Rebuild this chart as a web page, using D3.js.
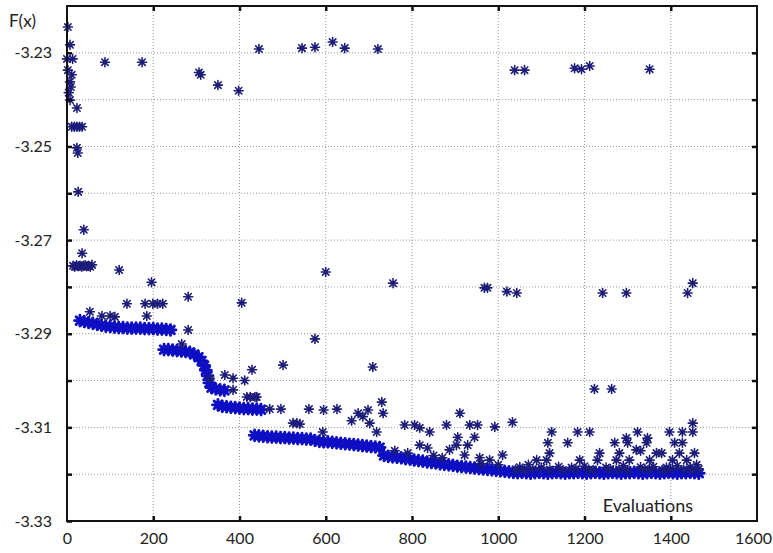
<!DOCTYPE html>
<html>
<head>
<meta charset="utf-8">
<script src="https://cdn.jsdelivr.net/npm/d3@7"></script>
<style>
  body { margin: 0; background: #fff; }
  svg { display: block; }
  text { font-family: Lato, "Liberation Sans", sans-serif; fill: #222; }
</style>
</head>
<body>
<div id="chart"></div>
<script>
// tick labels
var xTickValues = [0, 200, 400, 600, 800, 1000, 1200, 1400, 1600];
var yTickValues = [-3.33, -3.32, -3.31, -3.30, -3.29, -3.28, -3.27, -3.26, -3.25, -3.24, -3.23, -3.22];
var yTickLabels = ["-3.23", "-3.25", "-3.27", "-3.29", "-3.31", "-3.33"];

// dense trace of the best-so-far values
var bandEval = [30, 40, 50, 60, 70, 80, 90, 100, 110, 120, 130, 140, 150, 160, 170, 180, 190, 200, 210, 220, 230, 240,
  225, 235, 245, 255, 265, 275, 285, 295, 305, 312, 318, 322, 326, 330, 335, 345, 355, 365,
  350, 360, 370, 380, 390, 400, 410, 420, 430, 440, 450,
  435, 445, 455, 465, 475, 485, 495, 505, 515, 525, 535, 545, 555, 565, 575, 585, 595, 605, 615, 625, 635, 645, 655, 665, 675, 685, 695, 705, 715, 725,
  735, 745, 755, 765, 775, 785, 795, 805, 815, 825, 835, 845, 855, 865, 875, 885, 895, 905, 915, 925, 935, 945, 955, 965, 975, 985, 995, 1005, 1015, 1025,
  1035, 1045, 1055, 1065, 1075, 1085, 1095, 1105, 1115, 1125, 1135, 1145, 1155, 1165, 1175, 1185, 1195, 1205, 1215, 1225, 1235, 1245,
  1255, 1265, 1275, 1285, 1295, 1305, 1315, 1325, 1335, 1345, 1355, 1365, 1375, 1385, 1395, 1405, 1415, 1425, 1435, 1445, 1455, 1465];
var bandF = [-3.2872, -3.2874, -3.2876, -3.2878, -3.2880, -3.2882, -3.2884, -3.2885, -3.2886, -3.2887, -3.2887, -3.2888, -3.2888, -3.2888, -3.2888, -3.2889, -3.2889, -3.2889, -3.2890, -3.2890, -3.2891, -3.2892,
  -3.2934, -3.2934, -3.2935, -3.2936, -3.2937, -3.2938, -3.2940, -3.2944, -3.2950, -3.2958, -3.2968, -3.2978, -3.2990, -3.3005, -3.3015, -3.3018, -3.3020, -3.3021,
  -3.3052, -3.3055, -3.3056, -3.3057, -3.3058, -3.3059, -3.3060, -3.3060, -3.3061, -3.3061, -3.3062,
  -3.3117, -3.3118, -3.3119, -3.3120, -3.3121, -3.3121, -3.3122, -3.3122, -3.3123, -3.3123, -3.3124, -3.3124, -3.3125, -3.3125, -3.3128, -3.3130, -3.3131, -3.3131, -3.3132, -3.3133, -3.3134, -3.3135, -3.3136, -3.3137, -3.3138, -3.3139, -3.3140, -3.3141, -3.3142, -3.3143,
  -3.3160, -3.3162, -3.3163, -3.3164, -3.3165, -3.3167, -3.3168, -3.3170, -3.3171, -3.3172, -3.3174, -3.3175, -3.3176, -3.3178, -3.3179, -3.3180, -3.3181, -3.3183, -3.3184, -3.3185, -3.3186, -3.3187, -3.3188, -3.3189, -3.3190, -3.3191, -3.3192, -3.3193, -3.3194, -3.3195,
  -3.3196, -3.3197, -3.3196, -3.3197, -3.3198, -3.3197, -3.3196, -3.3197, -3.3198, -3.3197, -3.3196, -3.3197, -3.3198, -3.3197, -3.3197, -3.3196, -3.3197, -3.3198, -3.3197, -3.3196, -3.3197, -3.3198,
  -3.3197, -3.3196, -3.3197, -3.3198, -3.3197, -3.3197, -3.3196, -3.3197, -3.3198, -3.3197, -3.3196, -3.3197, -3.3198, -3.3197, -3.3196, -3.3197, -3.3198, -3.3197, -3.3197, -3.3196, -3.3197, -3.3198];

// scattered evaluations away from the trace
var scatterEval = [2, 7, 0, 13, 2, 11, 7, 9, 4, 7, 23, 11, 17, 23, 29, 35, 23, 25, 26, 39, 35,
  14, 18, 22, 26, 30, 34, 38, 42, 46, 50, 54, 58,
  88, 174, 306, 310, 350, 398, 445, 545, 575, 616, 644, 721, 1038, 1061, 1177, 1193, 1212, 1351,
  121, 196, 600, 756, 968, 975, 1020, 1043, 1242, 1297, 1439, 1451,
  139, 181, 199, 210, 222, 281, 405, 185, 281, 266, 53, 81, 100, 111,
  575, 501, 709,
  331, 366, 385, 429, 412, 385, 417, 425, 440, 436,
  1223, 1263,
  470, 496, 561, 595, 626, 730, 733, 675, 698, 686, 660, 702, 911,
  524, 533, 540, 593, 718,
  783, 806, 818, 841, 818, 836, 880, 906, 903, 934, 952, 945, 929, 887, 992, 922, 957, 980, 1010, 1033,
  1124, 1184, 1212, 1323, 1397, 1427, 1451, 1451, 1297, 1346,
  1115, 1161, 1270, 1300, 1344, 1409, 1427,
  1119, 1235, 1281, 1367, 1379, 1420, 1455, 1320, 1330,
  1089, 1112, 1189, 1230, 1274, 1304, 1351, 1404, 1437,
  1050, 1070, 1100, 1140, 1170, 1200, 1250, 1290, 1330, 1360, 1390, 1415, 1445, 1460,
  760, 790, 850, 870, 960, 1000,
  1040, 1060, 1080, 1120, 1150, 1180, 1210, 1220, 1260, 1280, 1300, 1340, 1350, 1380, 1400, 1430, 1450, 1465];
var scatterF = [-3.2245, -3.2283, -3.2313, -3.2313, -3.2337, -3.2347, -3.2362, -3.2373, -3.2385, -3.2401, -3.2418, -3.2458, -3.2458, -3.2458, -3.2458, -3.2458, -3.2503, -3.2514, -3.2597, -3.2678, -3.2728,
  -3.2755, -3.2757, -3.2754, -3.2756, -3.2755, -3.2757, -3.2755, -3.2754, -3.2756, -3.2755, -3.2757, -3.2753,
  -3.2320, -3.2320, -3.2342, -3.2347, -3.2369, -3.2381, -3.2292, -3.2290, -3.2288, -3.2277, -3.2290, -3.2292, -3.2337, -3.2337, -3.2333, -3.2335, -3.2328, -3.2335,
  -3.2764, -3.2790, -3.2768, -3.2792, -3.2802, -3.2802, -3.2810, -3.2813, -3.2813, -3.2813, -3.2813, -3.2792,
  -3.2836, -3.2836, -3.2836, -3.2836, -3.2836, -3.2821, -3.2834, -3.2862, -3.2892, -3.2922, -3.2853, -3.2862, -3.2862, -3.2864,
  -3.2911, -3.2967, -3.2971,
  -3.2995, -3.2988, -3.2995, -3.2977, -3.3000, -3.3020, -3.3035, -3.3035, -3.3035, -3.3035,
  -3.3018, -3.3018,
  -3.3061, -3.3061, -3.3061, -3.3063, -3.3061, -3.3046, -3.3070, -3.3070, -3.3063, -3.3077, -3.3086, -3.3091, -3.3070,
  -3.3091, -3.3091, -3.3093, -3.3110, -3.3110,
  -3.3095, -3.3095, -3.3101, -3.3110, -3.3138, -3.3144, -3.3095, -3.3121, -3.3138, -3.3095, -3.3095, -3.3121, -3.3138, -3.3148, -3.3099, -3.3159, -3.3165, -3.3170, -3.3159, -3.3089,
  -3.3110, -3.3110, -3.3110, -3.3110, -3.3110, -3.3110, -3.3110, -3.3091, -3.3123, -3.3123,
  -3.3133, -3.3133, -3.3133, -3.3133, -3.3133, -3.3133, -3.3133,
  -3.3155, -3.3155, -3.3155, -3.3155, -3.3155, -3.3155, -3.3155, -3.3148, -3.3150,
  -3.3170, -3.3170, -3.3170, -3.3170, -3.3170, -3.3170, -3.3170, -3.3170, -3.3170,
  -3.3185, -3.3180, -3.3186, -3.3184, -3.3186, -3.3183, -3.3186, -3.3182, -3.3185, -3.3184, -3.3186, -3.3182, -3.3185, -3.3180,
  -3.3150, -3.3155, -3.3160, -3.3165, -3.3178, -3.3180,
  -3.3190, -3.3191, -3.3189, -3.3190, -3.3191, -3.3189, -3.3190, -3.3191, -3.3189, -3.3190, -3.3191, -3.3189, -3.3190, -3.3191, -3.3189, -3.3190, -3.3191, -3.3189];

var width = 773,
    height = 553;
var margin = {left: 67, right: 16, top: 6, bottom: 32};

var svg = d3.select("#chart").append("svg")
    .attr("width", width)
    .attr("height", height);

var x = d3.scaleLinear().domain([0, 1600]).range([margin.left, width - margin.right]);
var y = d3.scaleLinear().domain([-3.33, -3.22]).range([height - margin.bottom, margin.top]);

// dotted grid
var grid = svg.append("g").attr("class", "grid")
    .attr("stroke", "#9a9a9a")
    .attr("stroke-width", 1)
    .attr("stroke-dasharray", "1,2");

grid.selectAll(".gx")
    .data(xTickValues.slice(1, -1))
  .enter().append("line")
    .attr("x1", function(d){ return x(d); })
    .attr("x2", function(d){ return x(d); })
    .attr("y1", y(-3.22))
    .attr("y2", y(-3.33));

grid.selectAll(".gy")
    .data(yTickValues.slice(1, -1))
  .enter().append("line")
    .attr("y1", function(d){ return y(d); })
    .attr("y2", function(d){ return y(d); })
    .attr("x1", x(0))
    .attr("x2", x(1600));

// asterisk marker: plus and times together
var star = "M-4.5,0H4.5M0,-4.5V4.5M-3.2,-3.2L3.2,3.2M-3.2,3.2L3.2,-3.2";

function pts(xs, ys) {
    return xs.map(function(v, i){ return [v, ys[i]]; });
}

var marks = svg.append("g")
    .attr("fill", "none")
    .attr("stroke-linecap", "round");

marks.selectAll(".band")
    .data(pts(bandEval, bandF))
  .enter().append("path")
    .attr("class", "band")
    .attr("d", star)
    .attr("stroke", "#0e0ec4")
    .attr("stroke-width", 2.4)
    .attr("transform", function(d){ return "translate(" + x(d[0]) + "," + y(d[1]) + ") scale(1.2)"; });

marks.selectAll(".pt")
    .data(pts(scatterEval, scatterF))
  .enter().append("path")
    .attr("class", "pt")
    .attr("d", star)
    .attr("stroke", "#1c1c7a")
    .attr("stroke-width", 1.6)
    .attr("transform", function(d){ return "translate(" + x(d[0]) + "," + y(d[1]) + ")"; });

// axes with inward ticks
var yAxis = d3.axisLeft(y)
    .tickValues(yTickValues.slice(0, -1))
    .tickSizeInner(-5)
    .tickSizeOuter(0)
    .tickPadding(15)
    .tickFormat(function(d){
        var s = d.toFixed(2);
        return yTickLabels.indexOf(s) >= 0 ? s : "";
    });

svg.append("g")
    .attr("transform", "translate(" + margin.left + ",0)")
    .call(yAxis)
    .call(function(g){
        g.select(".domain").remove();
        g.selectAll("line").attr("stroke", "#111").attr("stroke-width", 2.5);
        g.selectAll("text").attr("font-size", 16).attr("fill", "#222")
            .style("font-family", "Lato, 'Liberation Sans', sans-serif");
    });

svg.append("g")
    .attr("transform", "translate(" + (width - margin.right) + ",0)")
    .call(d3.axisRight(y).tickValues(yTickValues.slice(1, -1)).tickSizeInner(-5).tickSizeOuter(0).tickFormat(""))
    .call(function(g){
        g.select(".domain").remove();
        g.selectAll("line").attr("stroke", "#111").attr("stroke-width", 2.5);
    });

var xAxis = d3.axisBottom(x)
    .tickValues(xTickValues)
    .tickSizeInner(-5)
    .tickSizeOuter(0)
    .tickPadding(12)
    .tickFormat(d3.format("d"));

svg.append("g")
    .attr("transform", "translate(0," + (height - margin.bottom) + ")")
    .call(xAxis)
    .call(function(g){
        g.select(".domain").remove();
        g.selectAll("line").attr("stroke", "#111").attr("stroke-width", 2.5)
            .attr("opacity", function(d){ return d === 0 || d === 1600 ? 0 : 1; });
        g.selectAll("text").attr("font-size", 16).attr("fill", "#222")
            .style("font-family", "Lato, 'Liberation Sans', sans-serif")
            .attr("dx", function(d){ return d === 1600 ? -4 : 0; });
    });

svg.append("g")
    .attr("transform", "translate(0," + margin.top + ")")
    .call(d3.axisTop(x).tickValues(xTickValues.slice(1, -1)).tickSizeInner(-5).tickSizeOuter(0).tickFormat(""))
    .call(function(g){
        g.select(".domain").remove();
        g.selectAll("line").attr("stroke", "#111").attr("stroke-width", 2.5);
    });

// frame
svg.append("rect")
    .attr("x", x(0))
    .attr("y", y(-3.22))
    .attr("width", x(1600) - x(0))
    .attr("height", y(-3.33) - y(-3.22))
    .attr("fill", "none")
    .attr("stroke", "#111")
    .attr("stroke-width", 2);

svg.append("text")
    .attr("x", 9)
    .attr("y", 27)
    .attr("font-size", 17)
    .text("F(x)");

svg.append("text")
    .attr("x", 693)
    .attr("y", 512)
    .attr("text-anchor", "end")
    .attr("font-size", 18)
    .text("Evaluations");
</script>
</body>
</html>
